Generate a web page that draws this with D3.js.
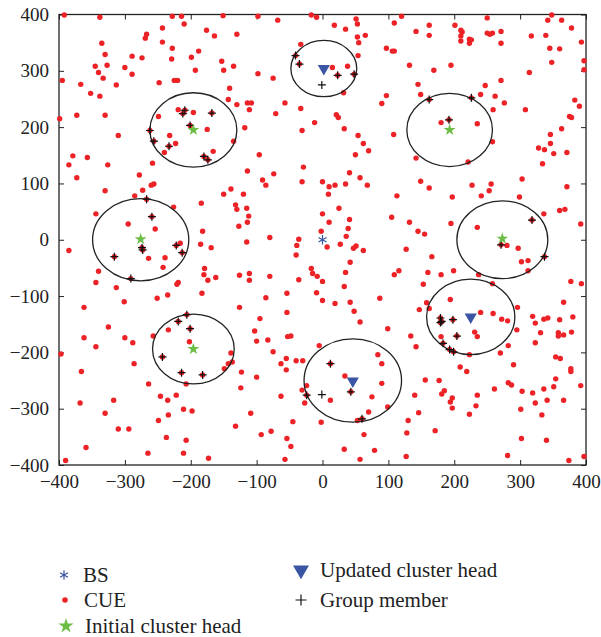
<!DOCTYPE html>
<html lang="en">
<head>
    <meta charset="UTF-8">
    <title>Cluster heads and CUE positions</title>
    <script src="https://d3js.org/d3.v7.min.js"></script>
    <style>
        body {
            margin: 0;
            padding: 0;
            background: #fff;
        }

        svg text {
            font-family: "Liberation Serif", "DejaVu Serif", serif;
            fill: #222;
        }
    </style>
</head>
<body>
    <svg id="chart" width="601" height="637"></svg>

    <script>
        // cellular users (red dots)
        const cue = [
            [-392,399],[-338,395],[-228,397],[-214,397],[-151,398],[-210,383],[-243,376],[-267,365],[-269,358],[-176,372],
            [-164,362],[-335,349],[-243,351],[-228,340],[-330,329],[-289,326],[-274,323],[-229,321],[-199,324],[-188,335],
            [-153,317],[-345,308],[-327,310],[-300,306],[-340,297],[-333,287],[-289,294],[-193,301],[-150,301],[-395,283],
            [-367,276],[-313,275],[-248,279],[-225,283],[-220,283],[-352,260],[-338,255],[-141,269],[-143,249],[-399,215],
            [-373,221],[-330,221],[-249,219],[-219,231],[-196,226],[-175,196],[-310,185],[-232,185],[-223,171],[-166,157],
            [-240,155],[-379,149],[-357,146],
            [-98,397],[-68,390],[-17,399],[-9,395],[18,381],[35,374],[51,392],[53,383],[120,397],[109,385],
            [-130,365],[53,360],[65,363],[55,350],[97,340],[106,335],[109,335],[-33,347],[54,327],[-135,308],
            [-98,295],[-75,287],[15,306],[38,308],[32,261],[97,256],[90,242],[-130,240],[-114,243],[-108,243],
            [-111,231],[-57,243],[-33,233],[-71,224],[21,222],[24,217],[-12,208],[-118,199],[-31,194],[33,197],
            [54,185],[62,171],[70,158],[108,187],[-135,175],[-96,151],[50,151],
            [348,399],[342,390],[363,390],[378,376],[393,351],[397,318],[397,302],[142,370],[162,381],[162,363],
            [201,381],[210,372],[212,369],[210,362],[210,353],[223,356],[226,355],[223,349],[250,394],[250,367],
            [254,365],[258,367],[271,370],[271,349],[317,362],[339,363],[345,340],[360,339],[348,315],[132,310],
            [169,301],[195,310],[314,297],[145,276],[149,258],[247,274],[271,283],[240,258],[262,255],[276,243],
            [259,231],[308,231],[383,248],[390,237],[375,219],[378,217],[363,197],[180,208],[235,206],[258,174],
            [346,187],[346,171],[328,163],[337,160],[351,153],[371,155],[142,145],
            [-385,133],[-326,133],[-258,136],[-373,110],[-278,115],[-260,97],[-256,99],[-330,87],[-273,88],[-285,78],
            [-226,58],[-344,46],[-295,28],[-254,19],[-216,-6],[-385,-19],[-264,-33],[-239,-32],[-242,-49],[-340,-56],
            [-344,-76],[-313,-85],[-219,-76],[-221,-79],[-251,-104],[-235,-98],[-301,-110],[-362,-120],[-183,-95],[-174,-72],
            [-162,-67],[-180,-62],[-179,-51],[-185,-8],[-169,-14],[-182,15],[-184,65],[-150,81],
            [-29,129],[-114,122],[-74,117],[-91,106],[-86,97],[-31,103],[0,103],[10,94],[19,97],[35,99],
            [41,119],[57,110],[68,97],[9,81],[-139,90],[-120,81],[-132,62],[-130,54],[-115,56],[-112,42],
            [-114,31],[-127,24],[-115,-4],[-80,4],[0,46],[10,31],[25,56],[41,36],[39,20],[36,6],
            [-2,15],[-36,1],[-39,-10],[-40,-27],[7,-13],[27,-8],[47,-15],[51,-11],[62,-19],[42,-40],
            [113,78],[105,40],[116,-55],[109,-62],[-17,-51],[-15,-60],[-8,-65],[0,-74],[35,-58],[33,-83],
            [-9,-94],[0,-108],[19,-113],[42,-111],[48,-127],[87,-104],[-126,-63],[-111,-60],[-111,-72],[-80,-65],
            [-36,-71],[-86,-103],[-54,-95],[-126,-120],[-54,-129],
            [221,138],[334,135],[149,104],[162,92],[227,97],[256,99],[253,87],[241,78],[303,108],[299,76],
            [197,76],[371,94],[360,52],[368,54],[336,46],[392,28],[132,31],[195,29],[145,15],[155,10],
            [235,22],[127,-17],[166,-30],[280,-10],[297,-15],[302,-39],[312,-37],[312,-55],[160,-58],[180,-62],
            [199,-55],[237,-62],[153,-79],[258,-78],[377,-74],[393,-78],[194,-106],[158,-112],[147,-124],[162,-122],
            [296,-120],[366,-111],[240,-129],[259,-131],
            [-325,-155],[-362,-174],[-344,-190],[-300,-174],[-288,-183],[-397,-203],[-286,-220],[-366,-234],[-257,-171],[-234,-160],
            [-202,-181],[-149,-229],[-143,-220],[-137,-217],[-207,-256],[-264,-256],[-246,-278],[-235,-285],[-222,-276],[-368,-290],
            [-317,-285],[-330,-308],[-211,-301],[-198,-304],[-249,-321],[-234,-311],[-310,-336],[-294,-336],[-237,-351],[-207,-356],
            [-359,-369],[-265,-379],[-211,-379],[-173,-388],[-390,-392],
            [-95,-140],[57,-146],[99,-158],[-103,-162],[-100,-180],[-83,-178],[-53,-172],[-48,-171],[-75,-199],[-139,-201],
            [-5,-188],[-55,-211],[-63,-220],[-55,-231],[-40,-215],[-30,-215],[-123,-235],[-100,-244],[-124,-263],[-63,-278],
            [-31,-267],[-24,-259],[-27,-290],[-109,-308],[-132,-331],[-93,-346],[-78,-340],[-45,-323],[-54,-353],[-48,-367],
            [-57,-390],[-2,-324],[12,-285],[34,-242],[84,-204],[90,-220],[90,-255],[75,-279],[99,-297],[70,-306],
            [53,-321],[63,-346],[33,-372],[79,-374],[57,-390],
            [319,-136],[336,-141],[342,-139],[360,-142],[380,-137],[272,-141],[281,-144],[323,-148],[295,-160],[331,-165],
            [358,-165],[358,-171],[366,-169],[378,-164],[323,-183],[282,-188],[270,-201],[231,-164],[235,-172],[180,-172],
            [134,-171],[142,-190],[223,-204],[354,-208],[361,-211],[290,-222],[377,-229],[377,-234],[209,-226],[219,-234],
            [354,-247],[392,-259],[156,-249],[177,-250],[185,-268],[181,-274],[197,-281],[194,-288],[197,-299],[235,-276],
            [233,-295],[223,-310],[261,-265],[282,-254],[287,-258],[303,-269],[319,-272],[336,-265],[351,-261],[366,-285],
            [341,-285],[323,-290],[301,-301],[333,-311],[140,-276],[146,-307],[130,-321],[128,-343],[171,-339],[127,-385],
            [302,-353],[340,-356],[281,-383],[374,-392],[397,-385]
        ];

        // group members (CUE dot under a black plus)
        const members = [
            [-209,230],[-212,224],[-168,225],[-201,203],[-262,194],[-256,175],[-233,166],[-180,148],[-174,142],
            [-41,327],[-35,312],[23,292],[48,294],
            [162,249],[226,252],[192,213],
            [-267,72],[-259,41],[-274,-14],[-273,-18],[-316,-30],[-222,-10],[-213,-23],[-291,-69],
            [318,35],[271,-9],[337,-30],
            [179,-139],[181,-145],[179,-147],[198,-142],[204,-171],[183,-184],[193,-195],[199,-199],
            [-206,-133],[-219,-145],[-201,-158],[-243,-208],[-214,-236],[-182,-240],
            [12,-220],[-24,-276],[43,-270],[60,-318]
        ];
        // group members drawn without a dot
        const bareMembers = [[-1,275],[-1,-275]];

        const bs = [[0, 0]];
        const initialHeads = [[-196,195],[193,195],[-276,1],[273,2],[-196,-194]];
        const updatedHeads = [[2,304],[225,-137],[46,-251]];

        // cluster circles: centre x, centre y, radius
        const clusters = [
            [-196,195,66],[2,304,50],[193,195,65],[-276,0,73],
            [273,0,69],[225,-137,67],[-196,-194,62],[46,-250,74]
        ];

        const ticks = [-400,-300,-200,-100,0,100,200,300,400];

        const legendItems = [
            {key: "bs", label: "BS"},
            {key: "cue", label: "CUE"},
            {key: "initial", label: "Initial cluster head"},
            {key: "updated", label: "Updated cluster head"},
            {key: "member", label: "Group member"}
        ];

        const red = "#ec2227";
        const green = "#6cbd45";
        const blue = "#3b55a5";

        const svg = d3.select("#chart");
        const plotLeft = 59, plotRight = 586, plotTop = 14.5, plotBottom = 465;

        const x = d3.scaleLinear().domain([-400, 400]).range([plotLeft, plotRight]);
        const y = d3.scaleLinear().domain([-400, 400]).range([plotBottom, plotTop]);

        // axes, ticks pointing inward on all four sides
        svg.append("g")
            .attr("transform", `translate(0,${plotBottom})`)
            .call(d3.axisBottom(x).tickValues(ticks).tickSizeInner(-5).tickSizeOuter(0).tickPadding(10))
            .call(g => g.selectAll("text").style("font-size", "19px"));
        svg.append("g")
            .attr("transform", `translate(0,${plotTop})`)
            .call(d3.axisTop(x).tickValues(ticks).tickSizeInner(-5).tickSizeOuter(0).tickFormat(""));
        svg.append("g")
            .attr("transform", `translate(${plotLeft},0)`)
            .call(d3.axisLeft(y).tickValues(ticks).tickSizeInner(-5).tickSizeOuter(0).tickPadding(10))
            .call(g => g.selectAll("text").style("font-size", "19px"));
        svg.append("g")
            .attr("transform", `translate(${plotRight},0)`)
            .call(d3.axisRight(y).tickValues(ticks).tickSizeInner(-5).tickSizeOuter(0).tickFormat(""));
        svg.selectAll(".domain").remove();
        svg.selectAll(".tick line").attr("stroke", "#222");

        svg.append("rect")
            .attr("x", plotLeft).attr("y", plotTop)
            .attr("width", plotRight - plotLeft).attr("height", plotBottom - plotTop)
            .attr("fill", "none").attr("stroke", "#222").attr("stroke-width", 1.3);

        const plot = svg.append("g");

        plot.selectAll("circle.cue")
            .data(cue.concat(members))
            .join("circle")
            .attr("class", "cue")
            .attr("cx", d => x(d[0]))
            .attr("cy", d => y(d[1]))
            .attr("r", 2.7)
            .attr("fill", red);

        plot.selectAll("ellipse.cluster")
            .data(clusters)
            .join("ellipse")
            .attr("class", "cluster")
            .attr("cx", d => x(d[0]))
            .attr("cy", d => y(d[1]))
            .attr("rx", d => x(d[2]) - x(0))
            .attr("ry", d => y(0) - y(d[2]))
            .attr("fill", "none")
            .attr("stroke", "#222")
            .attr("stroke-width", 1.3);

        const plusPath = "M-4,0H4M0,-4V4";

        plot.selectAll("path.member")
            .data(members.concat(bareMembers))
            .join("path")
            .attr("class", "member")
            .attr("transform", d => `translate(${x(d[0])},${y(d[1])})`)
            .attr("d", plusPath)
            .attr("stroke", "#111")
            .attr("stroke-width", 1.2)
            .attr("fill", "none");

        const star = d3.symbol().type(d3.symbolStar).size(44)();
        const tri = d3.symbol().type(d3.symbolTriangle).size(64)();
        const aster = d3.symbol().type(d3.symbolAsterisk).size(60)();

        plot.selectAll("path.initial")
            .data(initialHeads)
            .join("path")
            .attr("class", "initial")
            .attr("transform", d => `translate(${x(d[0])},${y(d[1])})`)
            .attr("d", star)
            .attr("fill", green);

        plot.selectAll("path.updated")
            .data(updatedHeads)
            .join("path")
            .attr("class", "updated")
            .attr("transform", d => `translate(${x(d[0])},${y(d[1])}) rotate(180)`)
            .attr("d", tri)
            .attr("fill", blue);

        plot.selectAll("path.bs")
            .data(bs)
            .join("path")
            .attr("class", "bs")
            .attr("transform", d => `translate(${x(d[0])},${y(d[1])})`)
            .attr("d", aster)
            .attr("fill", "none")
            .attr("stroke", blue)
            .attr("stroke-width", 1.2);

        // legend, two columns under the plot
        const legendPos = {
            bs: [64, 575], cue: [65, 600], initial: [66, 626],
            updated: [301, 570], member: [301, 600]
        };

        const legend = svg.append("g");
        legendItems.forEach(item => {
            const [lx, ly] = legendPos[item.key];
            const g = legend.append("g").attr("transform", `translate(${lx},${ly})`);
            if (item.key === "bs") {
                g.append("path").attr("d", aster).attr("fill", "none").attr("stroke", blue).attr("stroke-width", 1.2);
            } else if (item.key === "cue") {
                g.append("circle").attr("r", 2.8).attr("fill", red);
            } else if (item.key === "initial") {
                g.append("path").attr("d", d3.symbol().type(d3.symbolStar).size(70)()).attr("fill", green);
            } else if (item.key === "updated") {
                g.append("path").attr("d", d3.symbol().type(d3.symbolTriangle).size(110)())
                    .attr("transform", "rotate(180)").attr("fill", blue);
            } else {
                g.append("path").attr("d", "M-5.5,0H5.5M0,-5.5V5.5").attr("stroke", "#111").attr("stroke-width", 1.2);
            }
            g.append("text")
                .attr("x", 19)
                .attr("dy", "0.35em")
                .style("font-size", "21px")
                .text(item.label);
        });
    </script>
</body>
</html>
